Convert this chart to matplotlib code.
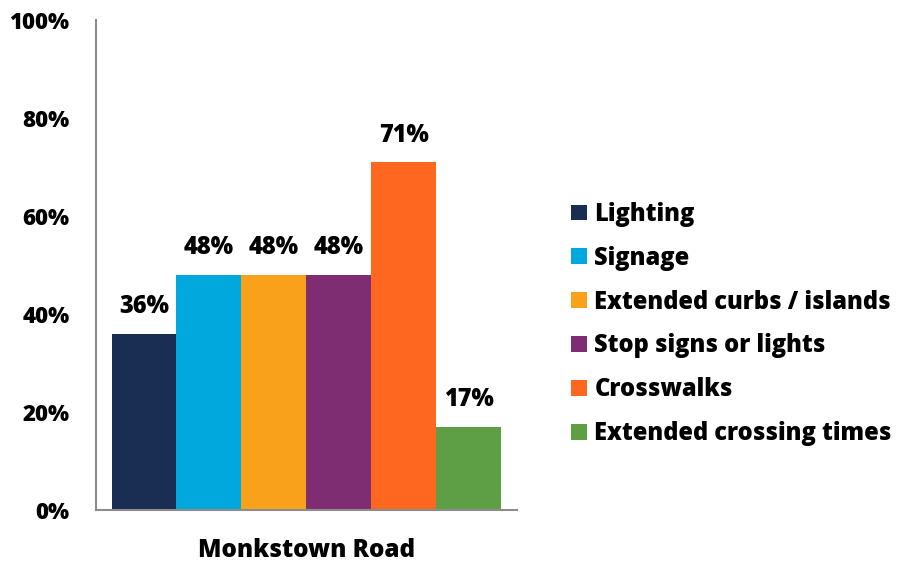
import matplotlib.pyplot as plt
import numpy as np

plt.rcParams['font.family'] = ['Open Sans', 'DejaVu Sans']
plt.rcParams['font.weight'] = 800

category = "Monkstown Road"
series = ["Lighting", "Signage", "Extended curbs / islands",
          "Stop signs or lights", "Crosswalks", "Extended crossing times"]
values = [36, 48, 48, 48, 71, 17]
colors = ["#1a2d52", "#00a8de", "#f9a11b", "#7e2d72", "#fd6720", "#5e9e45"]

fig = plt.figure(figsize=(8.97, 5.61), dpi=100)
ax = fig.add_axes([0.107, 0.091, 0.469, 0.873])

n = len(series)
width = 0.926 / n
for i, (name, v, c) in enumerate(zip(series, values, colors)):
    x = (i - (n - 1) / 2) * width
    ax.bar(x, v, width=width, color=c, label=name)
    ax.text(x, v + 3, f"{v}%", ha="center", va="bottom",
            fontsize=17, fontweight=800)

ax.set_xlim(-0.5, 0.5)
ax.set_ylim(0, 100)
ax.set_yticks(np.arange(0, 101, 20))
ax.set_yticklabels([f"{t}%" for t in range(0, 101, 20)])
ax.set_xticks([0])
ax.set_xticklabels([category])
ax.tick_params(axis="y", length=0, pad=19, labelsize=16)
ax.tick_params(axis="x", length=0, pad=20, labelsize=17.5)
for lab in ax.get_xticklabels() + ax.get_yticklabels():
    lab.set_fontweight(800)

for s in ["top", "right"]:
    ax.spines[s].set_visible(False)
for s in ["left", "bottom"]:
    ax.spines[s].set_color("#8c8c8c")
    ax.spines[s].set_linewidth(1.5)

leg = fig.legend(loc="center left", bbox_to_anchor=(0.613, 0.4225), frameon=False,
                 prop={"size": 17, "weight": 800}, handlelength=0.66,
                 handleheight=0.66, handletextpad=0.33, labelspacing=0.8)

fig.savefig("out.png", dpi=100)
